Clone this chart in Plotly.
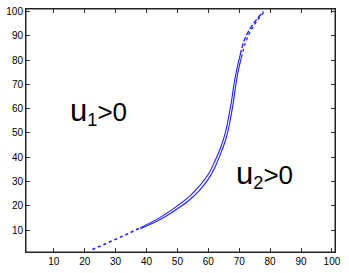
import plotly.graph_objects as go

# curve 1 (left / upper branch)
x_a = [22.5, 26, 30, 34, 38, 42, 46, 50, 54, 57, 60, 62, 64, 65.5, 66.5, 67.5,
       68.3, 69.2, 70.3, 71.6, 73.3, 75.5, 77.8]
y_a = [2, 4, 6, 8.5, 11, 13.5, 16.5, 20, 24, 28, 33, 38, 44, 50, 56, 63,
       70, 76, 82, 88, 92.5, 96.5, 100]

# curve 2 (right / lower branch)
x_b = [38, 42, 46, 50, 54, 57, 60, 62, 64, 65.7, 66.9, 67.9, 68.7, 69.6,
       70.7, 72, 73.6, 75.7, 77.9]
y_b = [10.6, 12.8, 15.5, 18.8, 22.5, 26.2, 31, 35.5, 41.5, 47.5, 54, 61, 68, 75,
       81, 87, 91.8, 96, 99.5]

ticks = [10, 20, 30, 40, 50, 60, 70, 80, 90, 100]

blue = "rgb(30,30,255)"
fig = go.Figure()
# dotted tail at the bottom
fig.add_trace(go.Scatter(x=x_a[:5], y=y_a[:5], mode="lines",
                         line=dict(color=blue, width=1.6, dash="3px,3px")))
# solid middle part
fig.add_trace(go.Scatter(x=x_a[4:19], y=y_a[4:19], mode="lines",
                         line=dict(color=blue, width=1.1, shape="spline")))
fig.add_trace(go.Scatter(x=x_b[:15], y=y_b[:15], mode="lines",
                         line=dict(color=blue, width=1.1, shape="spline")))
# broken top part
fig.add_trace(go.Scatter(x=x_a[18:], y=y_a[18:], mode="lines",
                         line=dict(color=blue, width=1.3, shape="spline",
                                   dash="5px,2px")))
fig.add_trace(go.Scatter(x=x_b[14:], y=y_b[14:], mode="lines",
                         line=dict(color=blue, width=1.3, shape="spline",
                                   dash="3px,3px")))

label_font = dict(size=26, color="black", family="Liberation Sans")
fig.add_annotation(x=24.6, y=58.8, showarrow=False, font=label_font,
                   text="<span style='font-size:31px'>u</span><sub>1</sub>>0")
fig.add_annotation(x=78.3, y=33, showarrow=False, font=label_font,
                   text="<span style='font-size:31px'>u</span><sub>2</sub>>0")

# axes box
fig.add_shape(type="rect", xref="paper", yref="paper", x0=0, y0=0, x1=1, y1=1,
              line=dict(color="#222", width=1))

axis = dict(range=[1, 101], tickvals=ticks, ticks="inside", ticklen=4,
            tickcolor="#333", showline=True, linecolor="#222", linewidth=1,
            mirror="ticks", showgrid=False, zeroline=False, automargin=False,
            tickfont=dict(size=10, color="black", family="Liberation Sans"))

fig.update_layout(width=349, height=273, showlegend=False,
                  margin=dict(l=26, r=14, t=9, b=21),
                  paper_bgcolor="white", plot_bgcolor="white",
                  xaxis=axis, yaxis=axis)
fig.write_html("out.html", config={"displayModeBar": False},
               post_script="document.body.style.margin='0';")
